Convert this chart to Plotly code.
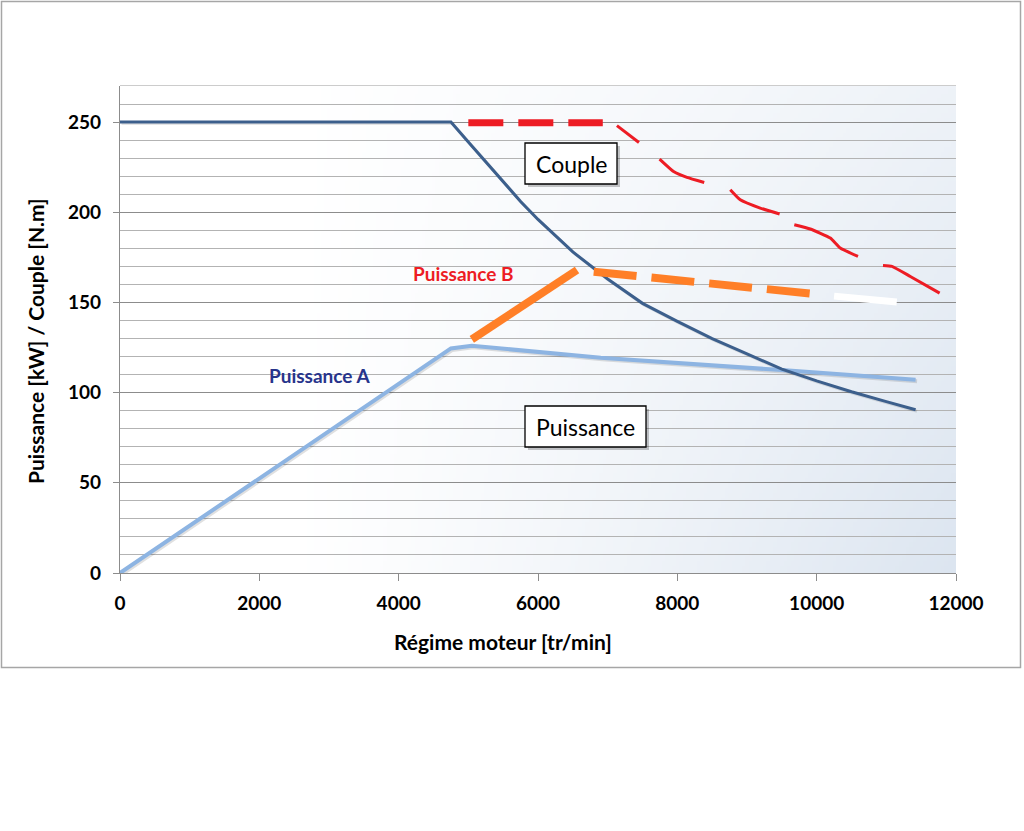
import plotly.graph_objects as go
import zlib, struct, base64

# ---------------- data ----------------
rpm_couple = [0, 4750, 5000, 5250, 5500, 5750, 6000, 6500, 7000, 7500, 8000, 8500, 9000, 9500, 10000, 10500, 11000, 11420]
couple = [250, 250, 239, 228, 217, 206, 196, 178, 163, 149.5, 139.5, 130, 121.5, 113, 106.5, 100.5, 95, 90.5]

rpm_puissance_a = [0, 4750, 5050, 6900, 9500, 11420]
puissance_a = [0, 124.5, 126, 119.3, 112.5, 107.2]

rpm_puissance_b = [5050, 6560]
puissance_b = [129.5, 168]

rpm_puissance_b_dash = [6800, 9950]
puissance_b_dash = [167, 154.8]

rpm_white_dash = [10250, 11150]
white_dash = [153.5, 150.2]

rpm_couple_b = [5000, 6930]
couple_b = [249.6, 249.6]

rpm_couple_b_hand = [7133, 7449, None,
                     7745, 7946, 8138, 8386, None,
                     8760, 8903, 9190, 9468, None,
                     9679, 9908, 10196, 10339, 10593, None,
                     10952, 11081, 11344, 11765]
couple_b_hand = [248.0, 238.7, None,
                 229.5, 222.6, 219.3, 216.5, None,
                 212.5, 206.9, 202.3, 199.0, None,
                 193.1, 190.7, 185.7, 180.2, 175.5, None,
                 170.5, 170.0, 164.4, 155.2]

x_ticks = [0, 2000, 4000, 6000, 8000, 10000, 12000]
y_ticks = [0, 50, 100, 150, 200, 250]

# ---------------- geometry helpers (pixels -> paper) ----------------
W, H = 1024, 831
L, R, T, B = 120, 956, 86, 573
X_MAX, Y_MAX = 12000, 270

def px(x):
    return (x - L) / (R - L)

def py(y):
    return (B - y) / (B - T)

RPM_PER_PX = X_MAX / (R - L)
VAL_PER_PX = Y_MAX / (B - T)

# ---------------- background gradient image ----------------
def make_png(w, h, fn):
    raw = bytearray()
    for j in range(h):
        raw.append(0)
        for i in range(w):
            raw += bytes(fn(i / (w - 1), j / (h - 1)))
    def chunk(tag, data):
        c = struct.pack('>I', len(data)) + tag + data
        return c + struct.pack('>I', zlib.crc32(tag + data) & 0xffffffff)
    png = (b'\x89PNG\r\n\x1a\n'
           + chunk(b'IHDR', struct.pack('>IIBBBBB', w, h, 8, 2, 0, 0, 0))
           + chunk(b'IDAT', zlib.compress(bytes(raw), 9))
           + chunk(b'IEND', b''))
    return 'data:image/png;base64,' + base64.b64encode(png).decode()

def grad(xf, yd):
    t = max(0.0, (xf - 0.2) / 0.8) ** 1.2 * (0.5 + 0.5 * yd)
    return (int(round(255 - 35 * t)), int(round(255 - 26 * t)), int(round(255 - 15 * t)))

bg_uri = make_png(240, 100, grad)

# ---------------- figure ----------------
fig = go.Figure()

sh_dx = 1.5 * RPM_PER_PX
sh_dy = 1.5 * VAL_PER_PX

def shadow(xs, ys):
    return ([None if v is None else v + sh_dx for v in xs],
            [None if v is None else v - sh_dy for v in ys])

# shadows
sx, sy = shadow(rpm_puissance_a, puissance_a)
fig.add_trace(go.Scatter(x=sx, y=sy, mode='lines', line=dict(color='rgba(0,0,0,0.12)', width=4),
                         hoverinfo='skip', showlegend=False))
sx, sy = shadow(rpm_couple, couple)
fig.add_trace(go.Scatter(x=sx, y=sy, mode='lines', line=dict(color='rgba(0,0,0,0.10)', width=3),
                         hoverinfo='skip', showlegend=False))

# Puissance A
fig.add_trace(go.Scatter(x=rpm_puissance_a, y=puissance_a, mode='lines',
                         line=dict(color='#8db4e2', width=4), name='Puissance A', showlegend=False))
# Couple
fig.add_trace(go.Scatter(x=rpm_couple, y=couple, mode='lines',
                         line=dict(color='#3c5f8c', width=3),
                         name='Couple', showlegend=False))
# Puissance B
fig.add_trace(go.Scatter(x=rpm_puissance_b, y=puissance_b, mode='lines',
                         line=dict(color='#ff7f27', width=8), name='Puissance B', showlegend=False))
fig.add_trace(go.Scatter(x=rpm_puissance_b_dash, y=puissance_b_dash, mode='lines',
                         line=dict(color='#ff7f27', width=8, dash='43px,15px'), showlegend=False))
fig.add_trace(go.Scatter(x=rpm_white_dash, y=white_dash, mode='lines',
                         line=dict(color='#ffffff', width=7), showlegend=False, hoverinfo='skip'))
# Couple B
fig.add_trace(go.Scatter(x=rpm_couple_b, y=couple_b, mode='lines',
                         line=dict(color='#ed1c24', width=7, dash='35px,15px'), showlegend=False))
fig.add_trace(go.Scatter(x=rpm_couple_b_hand, y=couple_b_hand, mode='lines',
                         line=dict(color='#ed1c24', width=3, shape='spline', smoothing=0.4),
                         connectgaps=False, showlegend=False))

shapes = []
# outer frame
shapes.append(dict(type='rect', xref='paper', yref='paper', x0=px(1.5), x1=px(1020.5),
                   y0=py(667.5), y1=py(1.5), line=dict(color='#a6a6a6', width=1.5),
                   fillcolor='rgba(0,0,0,0)', layer='below'))
# top border of plot area
shapes.append(dict(type='line', xref='paper', yref='paper', x0=0, x1=1, y0=1, y1=1,
                   line=dict(color='#9a9a9a', width=1.2), layer='between'))
# white patches covering grid lines
for (x0, y0, x1, y1) in [(263, 132, 403, 167), (660, 110, 808, 147)]:
    shapes.append(dict(type='rect', xref='paper', yref='paper', x0=px(x0), x1=px(x1),
                       y0=py(y1), y1=py(y0), line=dict(width=0), fillcolor='white', layer='between'))
# Puissance A label box (white with grey top/bottom lines)
shapes.append(dict(type='rect', xref='paper', yref='paper', x0=px(260), x1=px(384),
                   y0=py(383), y1=py(364), line=dict(width=0), fillcolor='white', layer='between'))
for yy in (364, 383):
    shapes.append(dict(type='line', xref='paper', yref='paper', x0=px(260), x1=px(384),
                       y0=py(yy), y1=py(yy), line=dict(color='#a0a0a0', width=1.2), layer='between'))
# Puissance B label patch
shapes.append(dict(type='rect', xref='paper', yref='paper', x0=px(403), x1=px(533),
                   y0=py(290), y1=py(267), line=dict(width=0), fillcolor='rgba(250,251,252,0.9)',
                   layer='between'))
shapes.append(dict(type='line', xref='paper', yref='paper', x0=px(403), x1=px(533),
                   y0=py(266.5), y1=py(266.5), line=dict(color='#8a8a8a', width=1.2), layer='between'))
# text boxes with shadows
for (x0, y0, x1, y1) in [(525, 143, 617, 184), (525, 406, 646, 447)]:
    shapes.append(dict(type='rect', xref='paper', yref='paper', x0=px(x0 + 3), x1=px(x1 + 3),
                       y0=py(y1 + 3), y1=py(y0 + 3), line=dict(width=0),
                       fillcolor='rgba(0,0,0,0.22)', layer='above'))
    shapes.append(dict(type='rect', xref='paper', yref='paper', x0=px(x0), x1=px(x1),
                       y0=py(y1), y1=py(y0), line=dict(color='black', width=1.3),
                       fillcolor='white', layer='above'))

def ann(text, x, y, size, color, angle=0):
    return dict(text=text, x=px(x), y=py(y), xref='paper', yref='paper', showarrow=False,
                xanchor='center', yanchor='middle', textangle=angle,
                font=dict(family='Lato', size=size, color=color))

annotations = [
    ann('Couple', 571, 163.5, 23, 'black'),
    ann('Puissance', 585.5, 426.5, 23, 'black'),
    ann('<b>Puissance B</b>', 463, 273, 19, '#ed1c24'),
    ann('<b>Puissance A</b>', 319, 375, 19, '#27348b'),
    ann('<b>Régime moteur [tr/min]</b>', 503, 641, 21, 'black'),
    ann('<b>Puissance [kW] / Couple [N.m]</b>', 35, 341, 21, 'black', -90),
]

fig.update_layout(
    width=W, height=H,
    margin=dict(l=L, r=W - R, t=T, b=H - B, pad=0),
    paper_bgcolor='white', plot_bgcolor='white',
    showlegend=False,
    shapes=shapes,
    annotations=annotations,
    images=[dict(source=bg_uri, xref='x', yref='y', x=0, y=Y_MAX, sizex=X_MAX, sizey=Y_MAX,
                 sizing='stretch', xanchor='left', yanchor='top', layer='below')],
    xaxis=dict(range=[0, X_MAX], tickvals=x_ticks, ticktext=[f'<b>{v}</b>' for v in x_ticks],
               showgrid=False, zeroline=False, showline=True, linecolor='#8c8c8c', linewidth=1.2,
               ticks='outside', ticklen=7, tickcolor='#8c8c8c', tickwidth=1.2,
               tickfont=dict(family='Lato', size=19, color='black'), ticklabelstandoff=6,
               fixedrange=True),
    yaxis=dict(range=[0, Y_MAX], tickvals=y_ticks, ticktext=[f'<b>{v}</b>' for v in y_ticks],
               showgrid=True, gridcolor='#8c8c8c', gridwidth=1.2, zeroline=False,
               showline=True, linecolor='#8c8c8c', linewidth=1.2,
               ticks='outside', ticklen=6, tickcolor='#8c8c8c', tickwidth=1.2,
               minor=dict(dtick=10, showgrid=True, gridcolor='#b3b3b3', gridwidth=1),
               tickfont=dict(family='Lato', size=19, color='black'), ticklabelstandoff=8,
               fixedrange=True),
)

fig.write_html('out.html', config={'displayModeBar': False},
               post_script="document.body.style.margin='0';")
